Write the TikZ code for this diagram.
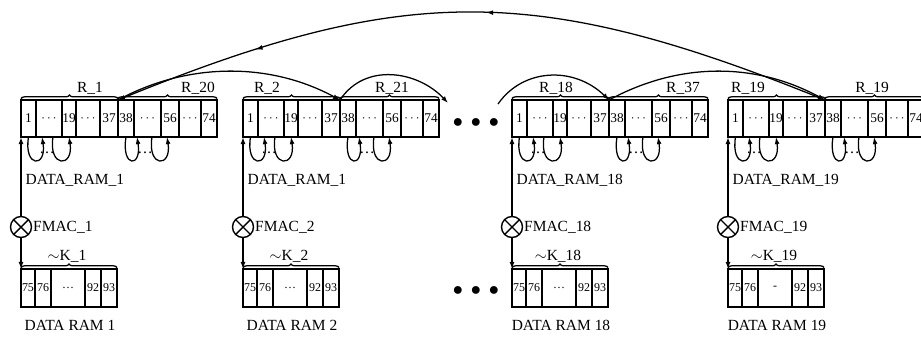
\documentclass[tikz,border=0pt]{standalone}
\usepackage{fontspec}
\setmainfont{Liberation Serif}
\usetikzlibrary{arrows.meta,calc,decorations.pathreplacing,decorations.markings}

\begin{document}
\begin{tikzpicture}[x=0.025cm,y=-0.025cm,
    >={Latex[length=5pt,width=3.5pt]},
    cell/.style={draw,line width=1pt,inner sep=0pt,outer sep=0pt,minimum height=37*0.025cm,font=\fontsize{9.5}{10}\selectfont},
    cellb/.style={cell,minimum height=38*0.025cm,font=\fontsize{8.5}{9}\selectfont},
    fmac/.style={draw,circle,line width=1pt,inner sep=0pt,outer sep=0pt,minimum size=21*0.025cm},
    lab/.style={inner sep=1pt,font=\fontsize{11}{12}\selectfont},
    accolade/.style={decorate,decoration={brace,amplitude=2.5pt},line width=0.9pt},
    lien/.style={->,line width=0.9pt}]
    \useasboundingbox (0,0) rectangle (921,338);

    % Blocs
    \foreach \b/\bx/\n/\dn/\ra/\rax/\rb/\rbx/\md in {
        1/21/1/1/1/69/20/177/\dots,
        2/243/2/1/2/24/21/149/\dots,
        3/512/18/18/18/44/37/171/\dots,
        4/728/19/19/19/20/19/144/-}{
        % Cases du haut
        \foreach \j/\xa/\xb/\t in {1/0/15/1, 2/15/41/$\cdots$, 3/41/55/19, 4/55/79/$\cdots$, 5/79/97/37,
            6/97/113/38, 7/113/140/$\cdots$, 8/140/158/56, 9/158/180/$\cdots$, 10/180/196/74}
            \node[cell,minimum width={(\xb-\xa)*0.025cm}] (u\b-\j) at ({\bx+(\xa+\xb)/2},118.5) {\t};
        \draw[accolade] ([yshift=1pt]u\b-1.north west) -- ([yshift=1pt]u\b-5.north east);
        \draw[accolade] ([yshift=1pt]u\b-6.north west) -- ([yshift=1pt]u\b-10.north east);
        \node[lab] (ra\b) at (\bx+\rax,88) {R\_\ra};
        \node[lab] (rb\b) at (\bx+\rbx,88) {R\_\rb};

        % Boucles
        \draw[lien] (u\b-1.south) .. controls +(-5,31) and +(5,31) .. ($(u\b-2.south west)+(6,0)$);
        \draw[lien] ($(u\b-2.south east)+(-9,0)$) .. controls +(-5,31) and +(5,31) .. (u\b-3.south);
        \draw[lien] (u\b-6.south) .. controls +(-5,31) and +(5,31) .. ($(u\b-7.south west)+(3,0)$);
        \draw[lien] ($(u\b-7.south east)+(-9,0)$) .. controls +(-5,31) and +(5,31) .. ($(u\b-8.south west)+(6,0)$);
        \node[lab] (pa\b) at (\bx+26,153) {\dots};
        \node[lab] (pb\b) at (\bx+124,153) {\dots};

        % Multiplieur
        \node[lab,anchor=west] (dr\b) at (\bx+3,180) {DATA\_RAM\_\dn};
        \node[fmac] (f\b) at (\bx,227) {};
        \draw[line width=1pt] (f\b.north east) -- (f\b.south west) (f\b.north west) -- (f\b.south east);
        \node[lab,anchor=west] (fl\b) at (f\b.east) {FMAC\_\n};

        % Cases du bas
        \foreach \j/\xa/\xb/\t in {1/0/14/75, 2/14/30/76, 3/30/64/\md, 4/64/80/92, 5/80/96/93}
            \node[cellb,minimum width={(\xb-\xa)*0.025cm}] (l\b-\j) at ({\bx+(\xa+\xb)/2},288) {\t};
        \draw[accolade] ([yshift=1pt]l\b-1.north west) -- ([yshift=1pt]l\b-5.north east);
        \node[lab] (k\b) at (\bx+46,256) {$\sim$K\_\n};
        \node[lab] (r\b) at (\bx+49,325) {DATA RAM \n};

        \draw[lien] (f\b.north) -- (u\b-1.south west);
        \draw[lien] (f\b.south) -- (l\b-1.north west);
    }

    % Points de suspension
    \node[font=\Large] (etc1) at (476,123) {$\bullet\,\bullet\,\bullet$};
    \node[font=\Large] (etc2) at (476,291) {$\bullet\,\bullet\,\bullet$};

    % Arcs entre les blocs
    \coordinate (finB) at (448,103);
    \coordinate (debC) at (498,104);
    \draw[lien] (u1-5.north east) .. controls +(70,-38) and +(-70,-38) .. (u2-5.north east);
    \draw[lien] (u2-5.north east) .. controls +(25,-38) and +(-30,-32) .. (finB);
    \draw[lien] (debC) .. controls +(25,-36) and +(-35,-34) .. (u3-5.north east);
    \draw[lien] (u3-5.north east) .. controls +(70,-38) and +(-70,-38) .. (u4-5.north east);
    \draw[lien,postaction={decorate},decoration={markings,
        mark=at position 0.48 with {\arrow{Latex[length=5pt,width=3.5pt]}},
        mark=at position 0.8 with {\arrow{Latex[length=5pt,width=3.5pt]}}}]
        (u4-5.north east) .. controls +(-288,-117) and +(287,-117) .. (u1-5.north east);
\end{tikzpicture}
\end{document}
